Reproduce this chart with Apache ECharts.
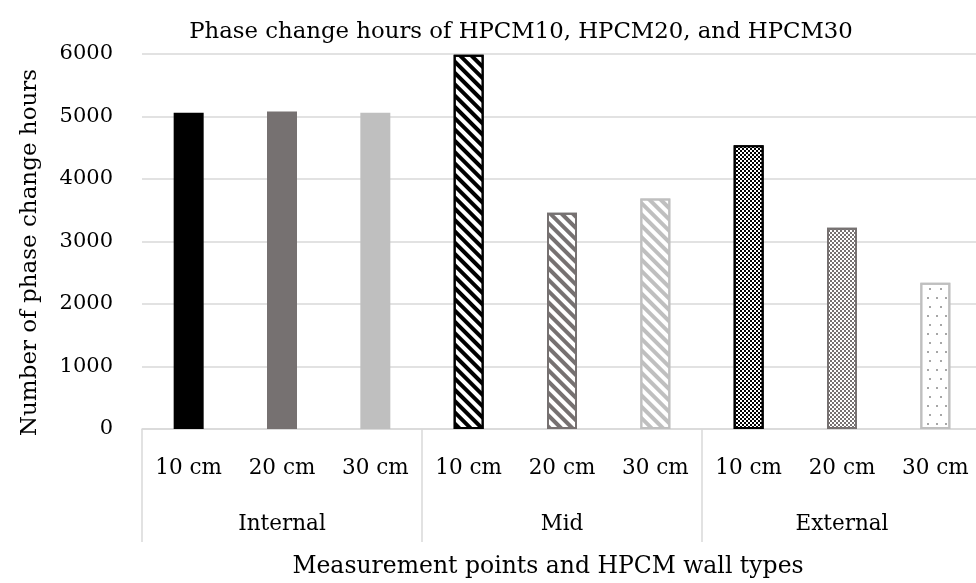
<!DOCTYPE html>
<html>
<head>
<meta charset="utf-8">
<script src="https://cdn.jsdelivr.net/npm/echarts@6/dist/echarts.min.js"></script>
<style>html,body{margin:0;padding:0;background:#fff}#c{width:976px;height:583px}</style>
</head>
<body>
<div id="c"></div>
<script>
const categories = ['10 cm','20 cm','30 cm','10 cm','20 cm','30 cm','10 cm','20 cm','30 cm'];
const groups = ['Internal','Mid','External'];
const values = [5060, 5080, 5060, 5990, 3460, 3690, 4540, 3220, 2340];
const yTicks = [0, 1000, 2000, 3000, 4000, 5000, 6000];
const titleText = 'Phase change hours of HPCM10, HPCM20, and HPCM30';
const xTitle = 'Measurement points and HPCM wall types';
const yTitle = 'Number of phase change hours';

const FONT = 'DejaVu Serif';
const stripe = (c) => ({symbol:'rect', symbolSize:1, dashArrayX:[1,0], dashArrayY:[3.5,3.5], rotation: Math.PI/4, color:c});
const checker = (c) => ({symbol:'rect', symbolSize:1, dashArrayX:[[2,2],[0,2,2,0]], dashArrayY:[2,0], color:c});
const dots = (c) => ({symbol:'rect', symbolSize:1, dashArrayX:[[1.5,7],[0,4.25,1.5,3.25]], dashArrayY:[1.5,7], color:c});

const styles = [
  {color:'#000000'},
  {color:'#767171'},
  {color:'#bfbfbf'},
  {color:'#ffffff', borderColor:'#000000', borderWidth:2, decal: stripe('#000000')},
  {color:'#ffffff', borderColor:'#767171', borderWidth:2, decal: stripe('#767171')},
  {color:'#ffffff', borderColor:'#bfbfbf', borderWidth:2, decal: stripe('#bfbfbf')},
  {color:'#ffffff', borderColor:'#000000', borderWidth:2, decal: checker('#000000')},
  {color:'#ffffff', borderColor:'#767171', borderWidth:2, decal: checker('#767171')},
  {color:'#ffffff', borderColor:'#bfbfbf', borderWidth:2, decal: dots('#a6a6a6')}
];

const chart = echarts.init(document.getElementById('c'), null, {renderer:'canvas'});
chart.setOption({
  animation:false,
  title:{text:titleText, left:516, top:16, textAlign:'center',
    textStyle:{fontFamily:FONT, fontSize:22.8, fontWeight:'normal', color:'#000'}},
  grid:{left:142, width:840, top:54, bottom:154, containLabel:false, outerBoundsMode:'none'},
  xAxis:[
    {type:'category', data:categories, position:'bottom',
     axisLine:{show:true, lineStyle:{color:'#d9d9d9', width:1.5}},
     axisTick:{show:false},
     axisLabel:{interval:0, margin:28, fontFamily:FONT, fontSize:21.5, color:'#000'},
     splitLine:{show:false}},
    {type:'category', data:groups, position:'bottom', offset:0,
     axisLine:{show:false},
     axisTick:{show:true, length:113, lineStyle:{color:'#d9d9d9', width:1.5}},
     axisLabel:{interval:0, margin:84, fontFamily:FONT, fontSize:21.5, color:'#000'},
     name:xTitle, nameLocation:'middle', nameGap:126,
     nameTextStyle:{fontFamily:FONT, fontSize:23.5, color:'#000', padding:[0,28,0,0]},
     splitLine:{show:false}}
  ],
  yAxis:{type:'value', min:yTicks[0], max:yTicks[yTicks.length-1], interval:1000,
    axisLine:{show:false}, axisTick:{show:false},
    axisLabel:{margin:29, fontFamily:FONT, fontSize:21, color:'#000', formatter:(v)=>String(v)},
    splitLine:{lineStyle:{color:'#d9d9d9', width:1.5}},
    name:yTitle, nameLocation:'middle', nameGap:100, nameRotate:90,
    nameTextStyle:{fontFamily:FONT, fontSize:23, color:'#000', padding:[0,22,0,0]}},
  series:[{type:'bar', xAxisIndex:0, barWidth:30,
    data: values.map((v,i)=>({value:v, itemStyle:styles[i]}))}]
});
</script>
</body>
</html>
